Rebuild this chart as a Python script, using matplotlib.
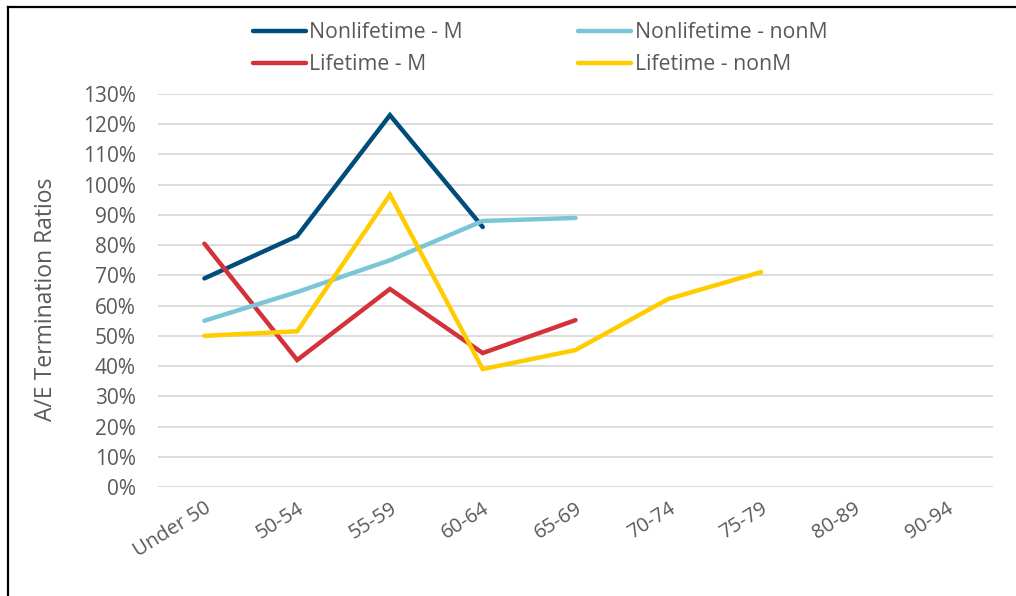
import matplotlib
matplotlib.use("Agg")
import matplotlib.pyplot as plt
from matplotlib.lines import Line2D
import numpy as np

categories = ["Under 50", "50-54", "55-59", "60-64", "65-69", "70-74", "75-79", "80-89", "90-94"]
nonlifetime_m = [0.69, 0.83, 1.23, 0.86]
nonlifetime_nonm = [0.55, 0.645, 0.75, 0.88, 0.89]
lifetime_m = [0.805, 0.42, 0.655, 0.443, 0.552]
lifetime_nonm = [0.50, 0.515, 0.967, 0.39, 0.453, 0.622, 0.711]
yticks = [i / 10 for i in range(0, 14)]

plt.rcParams['font.family'] = ['Open Sans', 'DejaVu Sans']
fig = plt.figure(figsize=(10.16, 5.96), dpi=100)
bx, by = 7.5 / 1016, 1 - 6.5 / 596
fig.add_artist(Line2D([bx, 1.0], [by, by], transform=fig.transFigure, color='black', linewidth=1.6))
fig.add_artist(Line2D([bx, bx], [0.0, by], transform=fig.transFigure, color='black', linewidth=1.6))

ax = fig.add_axes([158 / 1016, 1 - 487 / 596, (993 - 158) / 1016, (487 - 94) / 596])

x = np.arange(len(categories))
series = [
    (nonlifetime_m, "Nonlifetime - M", "#004C7A"),
    (lifetime_m, "Lifetime - M", "#D4323A"),
    (nonlifetime_nonm, "Nonlifetime - nonM", "#7AC5D8"),
    (lifetime_nonm, "Lifetime - nonM", "#FFCC00"),
]
handles = {}
for i in [0, 2, 1, 3]:
    vals, label, color = series[i]
    ln, = ax.plot(x[:len(vals)], vals, color=color, linewidth=3.2, label=label,
                  solid_capstyle='round', solid_joinstyle='miter', zorder=3 + i)
    handles[i] = ln

ax.set_xlim(-0.5, len(categories) - 0.5)
ax.set_ylim(0, 1.3)
ax.set_yticks(yticks)
ax.set_yticklabels([f"{int(round(t * 100))}%" for t in yticks], fontsize=15, color='#595959')
ax.set_xticks(x)
ax.set_xticklabels(categories, rotation=32, ha='right', rotation_mode='anchor',
                   fontsize=14.5, color='#595959')
ax.tick_params(axis='y', length=0, pad=16)
ax.tick_params(axis='x', length=0, pad=8)
ax.grid(axis='y', color='#D9D9D9', linewidth=1.3)
ax.set_axisbelow(True)
for s in ax.spines.values():
    s.set_visible(False)
ax.set_ylabel("A/E Termination Ratios", fontsize=16.5, color='#595959')
ax.yaxis.set_label_coords((58 - 158) / (993 - 158), (487 - 299) / (487 - 94))

hl = [handles[0], handles[1], handles[2], handles[3]]
leg = fig.legend(hl, [h.get_label() for h in hl], ncol=2, loc='upper left',
                 bbox_to_anchor=(244 / 1016, 1 - 14 / 596), frameon=False,
                 fontsize=15.3, handlelength=2.5, handletextpad=0.15, columnspacing=5.45,
                 labelspacing=0.5, borderaxespad=0)
for t in leg.get_texts():
    t.set_color('#595959')

fig.savefig("out.png", dpi=100)
